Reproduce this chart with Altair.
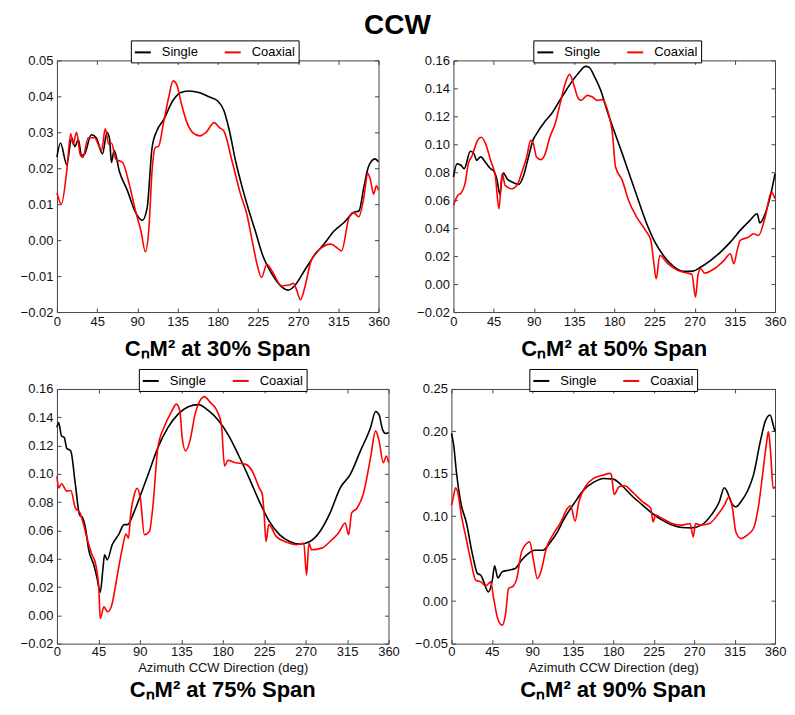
import altair as alt
import pandas as pd

SERIES = ["Single", "Coaxial"]
COLORS = ["#000000", "#ff0000"]
X_TICKS = [0, 45, 90, 135, 180, 225, 270, 315, 360]
Y_TICKS_30 = [-0.02, -0.01, 0.0, 0.01, 0.02, 0.03, 0.04, 0.05]
Y_TICKS_50 = [-0.02, 0.0, 0.02, 0.04, 0.06, 0.08, 0.10, 0.12, 0.14, 0.16]
Y_TICKS_75 = [-0.02, 0.0, 0.02, 0.04, 0.06, 0.08, 0.10, 0.12, 0.14, 0.16]
Y_TICKS_90 = [-0.05, 0.0, 0.05, 0.10, 0.15, 0.20, 0.25]
TITLES = ["CₙM² at 30% Span", "CₙM² at 50% Span", "CₙM² at 75% Span", "CₙM² at 90% Span"]
X_TITLE = "Azimuth CCW Direction (deg)"
MAIN_TITLE = "CCW"

# ---- 30% span ----
az_single_30 = [0, 4, 11, 16.5, 20, 24, 27.5, 31, 38.5, 44, 51, 56, 59, 61, 64, 70, 79, 88, 95.5, 101,
                106.5, 112, 119, 130, 138, 147, 160, 171, 180, 187, 193, 200, 207.5, 215, 222, 230, 240.6,
                251.6, 259, 266, 277, 288, 299, 310.5, 321.4, 332, 338, 343.5, 349, 356, 360]
val_single_30 = [0.0231, 0.027, 0.021, 0.0285, 0.026, 0.028, 0.0235, 0.024, 0.0293, 0.0285, 0.024, 0.030,
                 0.028, 0.0216, 0.025, 0.019, 0.0137, 0.0077, 0.0055, 0.009, 0.0257, 0.0305, 0.0333, 0.0389,
                 0.041, 0.0415, 0.041, 0.0398, 0.0387, 0.036, 0.0305, 0.022, 0.0146, 0.0081, 0.0026, -0.004,
                 -0.0094, -0.013, -0.0139, -0.0127, -0.0085, -0.0043, -0.0011, 0.0026, 0.0049, 0.0077,
                 0.0081, 0.0146, 0.0206, 0.0226, 0.0218]
az_coax_30 = [0, 5, 11, 15.4, 18, 22, 26, 29, 35, 42, 50, 54, 58, 61, 66, 73.5, 81, 88, 94, 99, 103, 106.5,
              110, 114, 119, 125, 130, 134, 139.6, 145, 152, 160, 167, 176, 182, 187, 196, 205.5, 213, 218.6,
              224, 229, 235, 240.6, 251.6, 261, 264.5, 268, 272.6, 277, 284.6, 295.6, 306.7, 314, 318.6, 327,
              331.6, 338, 343.5, 348, 350.8, 354.5, 357.5, 360]
val_coax_30 = [0.0132, 0.010, 0.0193, 0.0296, 0.0267, 0.030, 0.0239, 0.023, 0.0285, 0.0285, 0.025, 0.031,
               0.0267, 0.027, 0.0225, 0.0216, 0.0155, 0.0081, 0.0026, -0.0032, 0.0035, 0.0193, 0.0257, 0.0262,
               0.0322, 0.0396, 0.0443, 0.0433, 0.0377, 0.0331, 0.0299, 0.029, 0.030, 0.0327, 0.0313, 0.0303,
               0.022, 0.0128, 0.0068, -0.0002, -0.0067, -0.0104, -0.0067, -0.0085, -0.0127, -0.0124, -0.012,
               -0.0136, -0.0166, -0.0136, -0.0057, -0.0022, -0.0011, -0.0022, -0.003, 0.0063, 0.0077, 0.0065,
               0.0118, 0.0185, 0.0169, 0.0128, 0.0151, 0.0139]

# ---- 50% span ----
az_single_50 = [0, 4, 8.5, 12, 19, 23, 26, 30.5, 36, 41.6, 45, 49, 52, 54.5, 56, 60, 65.5, 73, 78, 84, 89, 93,
                102, 110, 119, 126, 133.6, 141, 148, 152, 157.5, 165, 172, 179.6, 189, 198, 207, 216.4, 225.6,
                235, 246, 257, 268, 277, 288, 299, 310, 321, 332, 340, 343, 349, 354.5, 360]
val_single_50 = [0.0766, 0.086, 0.085, 0.0825, 0.095, 0.0933, 0.0885, 0.091, 0.087, 0.0825, 0.081, 0.074,
                 0.064, 0.0766, 0.0794, 0.0754, 0.073, 0.0713, 0.0766, 0.0909, 0.1028, 0.1075, 0.116, 0.122,
                 0.1314, 0.1385, 0.1457, 0.1517, 0.1557, 0.155, 0.149, 0.1385, 0.124, 0.11, 0.0933, 0.0766,
                 0.06, 0.0432, 0.03, 0.0205, 0.0129, 0.0091, 0.0093, 0.0122, 0.017, 0.0229, 0.03, 0.0384,
                 0.0456, 0.0503, 0.0437, 0.0503, 0.0622, 0.0789]
az_coax_50 = [0, 4.8, 8.5, 13, 16.6, 21, 27, 31, 36, 41.6, 47, 51, 54.5, 58, 65.5, 71, 76.6, 82, 86.5, 89.5,
              93, 98, 102, 108, 114.5, 119, 124, 130, 135.5, 139, 143, 150, 155.7, 161, 166.7, 172, 178, 181.5,
              189, 196, 205, 215, 221, 224, 227, 231, 240, 251, 262, 267, 271, 274, 277, 281, 292, 303, 310,
              314, 317.6, 321, 330.4, 336, 341.6, 349, 356, 360]
val_coax_50 = [0.0563, 0.0634, 0.065, 0.0718, 0.086, 0.092, 0.1028, 0.105, 0.1004, 0.0885, 0.0766, 0.0539,
               0.079, 0.0706, 0.0682, 0.0706, 0.080, 0.0909, 0.1028, 0.1004, 0.0909, 0.089, 0.092, 0.1052,
               0.1159, 0.1278, 0.141, 0.15, 0.141, 0.1338, 0.1314, 0.135, 0.1338, 0.1314, 0.1319, 0.1254,
               0.1076, 0.0837, 0.0742, 0.0599, 0.048, 0.0384, 0.0313, 0.017, 0.0038, 0.0205, 0.0146, 0.0098,
               0.0079, 0.0069, -0.0093, 0.0074, 0.011, 0.0079, 0.011, 0.017, 0.0217, 0.0146, 0.0241, 0.0313,
               0.0336, 0.036, 0.0348, 0.048, 0.0658, 0.061]

# ---- 75% span ----
az_single_75 = [0, 1.8, 5, 8, 10.6, 15, 20, 24.5, 28, 31, 34.5, 40, 43.6, 47, 50, 51.7, 54.6, 60, 67, 73,
                76.6, 84, 91, 100.4, 109.6, 120.6, 131.6, 142.6, 153.6, 164.6, 175.6, 186.6, 197.6, 208.6,
                219.6, 230.6, 241.6, 252.6, 263.6, 274.6, 285.6, 296.6, 307.6, 318.5, 329.5, 340.5, 346,
                349.7, 353.4, 357, 360]
val_single_75 = [0.1328, 0.1363, 0.1268, 0.1257, 0.1181, 0.1162, 0.0925, 0.0712, 0.0688, 0.0617, 0.0463,
                 0.0357, 0.0262, 0.0162, 0.0333, 0.0428, 0.0392, 0.0499, 0.057, 0.0641, 0.0641, 0.0735,
                 0.0854, 0.102, 0.1185, 0.1328, 0.1422, 0.1474, 0.1489, 0.1446, 0.1375, 0.1268, 0.1126,
                 0.0972, 0.0807, 0.0664, 0.057, 0.0522, 0.0503, 0.0522, 0.0593, 0.0724, 0.0901, 0.0996,
                 0.1162, 0.1328, 0.1441, 0.1418, 0.1316, 0.1285, 0.1292]
az_coax_75 = [0, 1.8, 5, 10.6, 15, 20, 25, 28, 32.6, 38, 41.8, 45.5, 47, 51, 55, 59, 65.6, 71, 75, 77.7, 80,
              84, 87, 90.5, 95, 100.4, 104, 109.6, 117, 124, 129.7, 133.4, 136, 139.7, 144.4, 150, 155.4, 160,
              166.4, 173.7, 178.5, 182, 185.7, 194, 205, 212, 219.6, 223, 225, 227, 230, 238, 249, 260, 268,
              271, 273.6, 276.5, 287.5, 296.6, 305.7, 313, 316.7, 320, 326, 333, 340.5, 346, 349.7, 354.4,
              357.7, 360]
val_coax_75 = [0.0984, 0.0901, 0.093, 0.0878, 0.0882, 0.0759, 0.0724, 0.0664, 0.0546, 0.0428, 0.0368,
               0.0191, -0.0022, 0.006, 0.0025, 0.006, 0.0285, 0.0475, 0.0574, 0.0546, 0.0712, 0.0854, 0.0897,
               0.083, 0.057, 0.0593, 0.0759, 0.1185, 0.134, 0.1434, 0.1493, 0.1446, 0.1257, 0.1162, 0.1233,
               0.1422, 0.1517, 0.1546, 0.1505, 0.1446, 0.1351, 0.1055, 0.1095, 0.1079, 0.1067, 0.102, 0.0901,
               0.0854, 0.0712, 0.0522, 0.0641, 0.0558, 0.0518, 0.0499, 0.051, 0.0285, 0.051, 0.0463, 0.0475,
               0.0522, 0.0582, 0.0653, 0.057, 0.0724, 0.0759, 0.0866, 0.1114, 0.1304, 0.1233, 0.1079, 0.1126,
               0.1079]

# ---- 90% span ----
az_single_90 = [0, 2.5, 5.5, 11, 16.4, 23.6, 29, 32.7, 36, 41, 45.5, 48, 51.6, 56.4, 63.6, 71, 78, 85.5, 92.7,
                101.8, 109, 118, 125.5, 136.4, 147, 158, 169, 180, 191, 201.8, 212.7, 223.6, 234.5, 245.5,
                256.4, 267, 278, 289, 298, 303.6, 306.5, 311, 316.4, 322, 329, 336, 343.6, 349, 354.5, 358, 360]
val_single_90 = [0.1977, 0.184, 0.1525, 0.1132, 0.0935, 0.0542, 0.0325, 0.0306, 0.0227, 0.0109, 0.0247,
                 0.0416, 0.0274, 0.0345, 0.0365, 0.0384, 0.0483, 0.0561, 0.06, 0.06, 0.0679, 0.0817, 0.0974,
                 0.1151, 0.1308, 0.1399, 0.1446, 0.1438, 0.1348, 0.123, 0.1132, 0.1033, 0.0955, 0.0896,
                 0.0868, 0.0864, 0.0896, 0.1014, 0.1171, 0.1336, 0.1297, 0.1171, 0.1112, 0.1171, 0.1289,
                 0.1485, 0.1879, 0.2115, 0.2193, 0.2075, 0.1997]
az_coax_90 = [0, 1.8, 4.7, 7.3, 11, 16.4, 21.8, 27, 32.7, 38, 43.6, 47, 51, 56.4, 60, 63.6, 69, 72.7, 78, 83.6,
              87, 91, 95.6, 100, 105.5, 112.7, 121.8, 129, 132.7, 137.5, 141.8, 149, 158, 169, 176.4, 178, 181,
              186.5, 192.7, 201.8, 212.7, 221.8, 224.4, 227, 234.5, 245.5, 256.4, 265.5, 269, 271.6, 276.4,
              287, 296, 303.6, 309, 312.7, 316.4, 322, 329, 336, 341.8, 347, 351, 352.7, 355, 358, 360]
val_coax_90 = [0.1132, 0.121, 0.1336, 0.1269, 0.1014, 0.0738, 0.0463, 0.0247, 0.0227, 0.018, 0.0227, 0.0031,
               -0.0186, -0.0284, -0.0166, 0.0149, 0.018, 0.0266, 0.0581, 0.0679, 0.0699, 0.0502, 0.0266,
               0.0365, 0.062, 0.0778, 0.0935, 0.1092, 0.1124, 0.0943, 0.1171, 0.1348, 0.1446, 0.1485, 0.1505,
               0.1485, 0.1257, 0.1348, 0.136, 0.1281, 0.1171, 0.1092, 0.0935, 0.1014, 0.0974, 0.0915, 0.0896,
               0.0915, 0.0758, 0.0915, 0.0896, 0.0915, 0.1014, 0.1132, 0.123, 0.1092, 0.0817, 0.0738, 0.0778,
               0.0856, 0.1132, 0.1564, 0.1898, 0.1997, 0.1761, 0.1328, 0.1348]

FONT = "Liberation Sans"


def make_df(az_s, val_s, az_c, val_c):
    a = pd.DataFrame({"az": az_s, "val": val_s})
    a["series"] = SERIES[0]
    b = pd.DataFrame({"az": az_c, "val": val_c})
    b["series"] = SERIES[1]
    return pd.concat([a, b], ignore_index=True)


def panel(df, yticks, title, w, h, left_ext, legend_x, title_offset, xtitle=None):
    xs = alt.Scale(domain=[0, 360], nice=False, zero=False)
    ys = alt.Scale(domain=[yticks[0], yticks[-1]], nice=False, zero=False)
    inner = dict(domain=False, ticks=True, tickSize=4, offset=-4, tickColor="#444",
                 tickWidth=1, grid=False)
    xaxis_kw = dict(values=X_TICKS, orient="bottom", labelFlush=False,
                    labelOverlap=False, labelBound=False, **inner)
    if xtitle:
        xaxis_kw.update(title=xtitle, titlePadding=3, labelPadding=2)
    else:
        xaxis_kw.update(title=None, labelPadding=3)
    base = alt.Chart(df)
    lines = base.mark_line(strokeWidth=1.6, interpolate="monotone").encode(
        x=alt.X("az:Q", scale=xs, axis=alt.Axis(**xaxis_kw)),
        y=alt.Y("val:Q", scale=ys,
                axis=alt.Axis(values=yticks, orient="left", format=".2f", labelPadding=4,
                              labelOverlap=False, labelFlush=False, title=None,
                              minExtent=left_ext, maxExtent=left_ext, **inner)),
        color=alt.Color("series:N",
                        scale=alt.Scale(domain=SERIES, range=COLORS),
                        sort=SERIES,
                        legend=alt.Legend(orient="none", legendX=legend_x, legendY=-20,
                                          direction="horizontal", title=None,
                                          symbolType="stroke", symbolSize=256,
                                          symbolStrokeWidth=2, labelFont=FONT,
                                          labelFontSize=13, labelColor="black",
                                          padding=3, strokeColor="black",
                                          fillColor="white", columnPadding=22,
                                          labelOffset=10)),
    )
    ghost = base.mark_point(opacity=0, size=1).encode(
        x=alt.X("az:Q", scale=xs,
                axis=alt.Axis(values=X_TICKS, orient="top", labels=False, title=None,
                              minExtent=0, maxExtent=4, **inner)),
        y=alt.Y("val:Q", scale=ys,
                axis=alt.Axis(values=yticks, orient="right", labels=False, title=None,
                              minExtent=0, maxExtent=4, **inner)),
    )
    return alt.layer(lines, ghost).resolve_axis(x="independent", y="independent").properties(
        width=w, height=h,
        title=alt.TitleParams(text=title, orient="bottom", anchor="middle", font=FONT,
                              fontSize=22, fontWeight="bold", color="black",
                              offset=title_offset),
    )


p1 = panel(make_df(az_single_30, val_single_30, az_coax_30, val_coax_30), Y_TICKS_30, TITLES[0],
           322, 252, 52, 74, 11)
p2 = panel(make_df(az_single_50, val_single_50, az_coax_50, val_coax_50), Y_TICKS_50, TITLES[1],
           322, 252, 48, 80, 11)
p3 = panel(make_df(az_single_75, val_single_75, az_coax_75, val_coax_75), Y_TICKS_75, TITLES[2],
           332, 255, 52, 82, 5, X_TITLE)
p4 = panel(make_df(az_single_90, val_single_90, az_coax_90, val_coax_90), Y_TICKS_90, TITLES[3],
           324, 255, 48, 78, 5, X_TITLE)

row1 = alt.hconcat(p1, p2, spacing=18).resolve_legend(color="independent")
row2 = alt.hconcat(p3, p4, spacing=6).resolve_legend(color="independent")

chart = alt.vconcat(row1, row2, spacing=7).resolve_legend(color="independent").properties(
    title=alt.TitleParams(text=MAIN_TITLE, fontSize=28, font=FONT, fontWeight="bold",
                          anchor="middle", color="black", offset=-1),
    padding={"left": 0, "top": 4, "right": 0, "bottom": 0},
).configure_view(stroke="#444", strokeWidth=1).configure_axis(
    labelFont=FONT, labelFontSize=13, labelColor="#111", titleFont=FONT, titleFontSize=13,
    titleFontWeight="normal", titleColor="#111"
)

chart.save("out.html", embed_options={"renderer": "svg", "actions": False})
